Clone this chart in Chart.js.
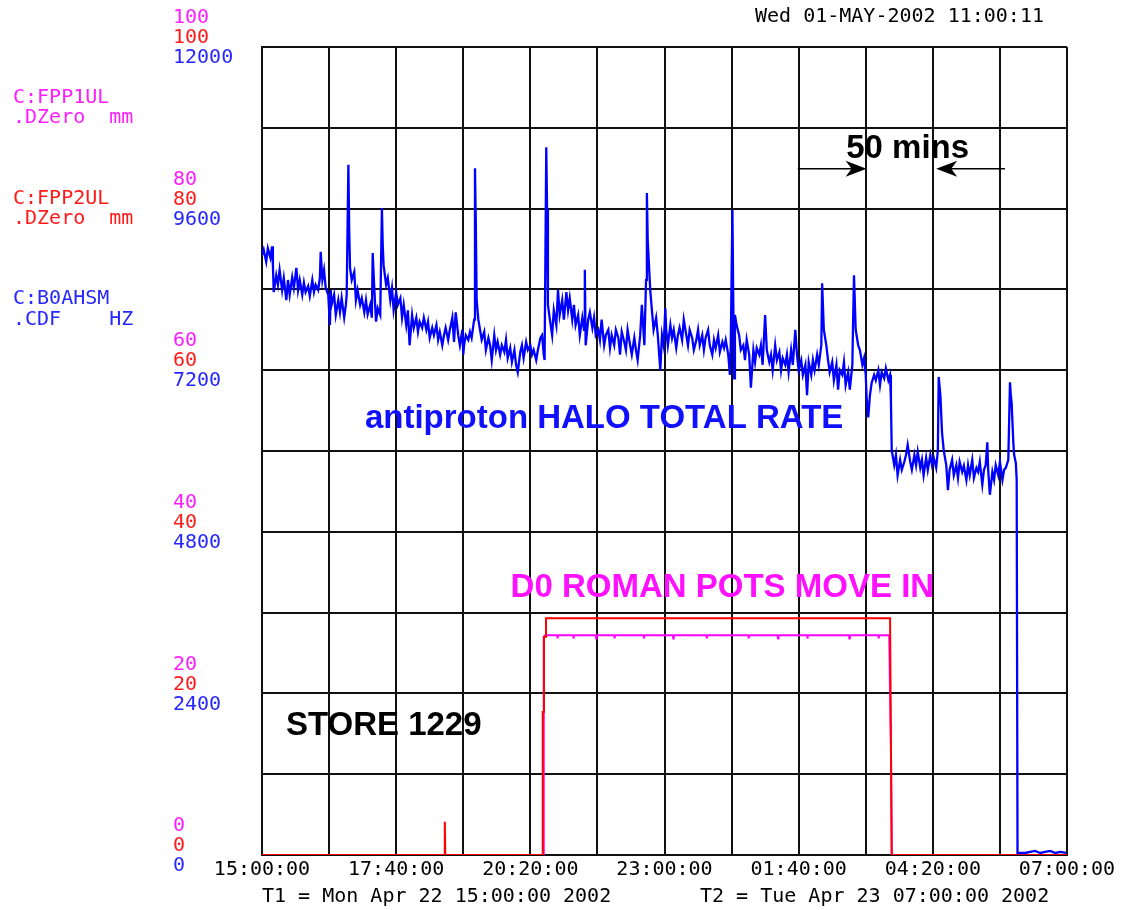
<!DOCTYPE html>
<html>
<head>
<meta charset="utf-8">
<script src="https://cdn.jsdelivr.net/npm/chart.js@4/dist/chart.umd.min.js"></script>
<style>
html,body{margin:0;padding:0;background:#fff;}
#wrap{width:1135px;height:910px;}
</style>
</head>
<body>
<div id="wrap"><canvas id="c" width="1135" height="910"></canvas></div>
<script>
// ---- data (x = minutes after 15:00:00 Mon Apr 22 2002) ----
const xTickLabels = ['15:00:00','17:40:00','20:20:00','23:00:00','01:40:00','04:20:00','07:00:00'];
const yTicksHz = [0, 2400, 4800, 7200, 9600, 12000];
const yTicksMm = [0, 20, 40, 60, 80, 100];

// C:B0AHSM.CDF  (Hz) [minute, rate]
const haloRate = [
[0,8910],[2,8990],[5,8810],[7,9010],[10,8870],[12,9040],[13,8760],[14,8360],[17,8610],[19,8470],
[21,8690],[24,8390],[26,8570],[29,8240],[31,8540],[33,8320],[36,8580],[38,8420],[41,8720],[43,8390],
[45,8540],[48,8320],[50,8500],[52,8360],[55,8450],[57,8300],[60,8540],[62,8360],[64,8470],[67,8390],
[69,8570],[70,8960],[72,8540],[74,8690],[76,8420],[79,8320],[81,7870],[82,8390],
[83,8170],[86,8320],[88,8020],[91,8240],[93,8060],[95,8270],[98,7980],[100,8170],[101,8320],[103,10250],
[104,9280],[105,8720],[107,8540],[110,8660],[112,8240],[114,8390],[117,8170],[119,8270],[122,8060],[124,8240],
[126,8030],[129,8170],[131,7980],[132,8940],[134,8390],[136,7920],[138,8120],[141,8020],[143,9610],[144,9060],
[145,8760],[148,8470],[150,8570],[153,8240],[155,8420],[157,8090],[160,8360],[162,8170],[165,8270],
[167,7980],[169,8170],[172,7870],[174,8090],[176,7570],[179,8020],[181,7830],[184,7980],[186,7770],[188,7920],
[191,7830],[193,7980],[196,7800],[198,7920],[200,7680],[203,7830],[205,7720],[208,7870],[210,7650],[212,7770],
[215,7570],[217,7720],[219,7830],[222,7650],[224,7800],[227,7980],[229,7620],[231,8060],[234,7720],[236,7570],
[239,7800],[240,7430],[241,7570],[243,7720],[246,7650],[248,7770],[250,7680],[253,7950],[254,10200],[255,9360],
[256,8240],[258,7950],[260,7800],[262,7650],[265,7770],[267,7500],[270,7680],[272,7570],[274,7350],[277,7720],
[279,7500],[281,7620],[284,7430],[286,7570],[289,7470],[291,7650],[293,7380],[296,7530],[298,7320],[301,7500],
[303,7280],[305,7170],[308,7470],[310,7570],[312,7380],[315,7620],[317,7500],[320,7570],[322,7430],[324,7500],
[327,7350],[329,7500],[332,7680],[334,7720],[336,7430],[337,7350],[339,10510],[340,9580],[341,8170],[343,7980],
[346,7720],[348,8090],[351,7870],[353,8390],[355,8020],[358,8240],[360,7950],[363,8360],[365,8090],[367,8270],
[370,7950],[372,8170],[374,7870],[377,8020],[379,7720],[382,7980],[384,7800],[385,8690],[386,7570],[389,7950],
[391,8060],[394,7830],[396,7980],[398,7720],[401,7800],[403,7650],[405,7950],[408,7570],[410,7720],[413,7800],
[415,7530],[417,7720],[420,7570],[422,7800],[425,7680],[427,7430],[429,7770],[432,7620],[434,7500],[436,7800],
[439,7570],[441,7430],[444,7680],[446,7500],[448,7350],[451,7720],[453,8170],[456,7570],[458,8540],[459,9830],
[460,9130],[463,8390],[465,8090],[467,7800],[470,7980],[472,7720],[475,7200],[477,7720],[479,7570],[481,8120],
[482,7800],[484,7570],[487,7870],[489,7680],[491,7800],[494,7530],[496,7720],[498,7830],[501,7650],[503,7950],
[506,7720],[508,7570],[510,7800],[513,7680],[515,7500],[518,7650],[520,7800],[522,7570],[525,7720],[527,7500],
[529,7680],[532,7800],[534,7570],[537,7430],[539,7650],[541,7530],[544,7720],[546,7470],[549,7620],[551,7530],
[553,7650],[556,7430],[558,7130],[559,7570],[561,9580],[562,8240],[563,7080],[564,8020],[566,7870],[569,7720],
[571,7500],[574,7570],[576,7350],[578,7650],[581,7430],[583,6940],[586,7500],[588,7320],[590,7530],[593,7430],
[595,7570],[597,7280],[600,8020],[602,7500],[605,7320],[607,7430],[609,7200],[612,7570],[614,7350],[617,7470],
[619,7200],[621,7380],[624,7280],[626,7430],[628,7170],[631,7500],[633,7280],[636,7800],[638,7430],[640,7200],
[643,7350],[645,7130],[648,7280],[650,6830],[652,7320],[655,7130],[657,7350],[659,7200],[662,7430],[664,7280],
[667,7570],[668,8490],[670,7800],[673,7570],[675,7350],[677,7170],[680,7320],[682,7050],[685,7280],[687,6910],
[689,7200],[692,7130],[694,7320],[696,6980],[699,7170],[701,6910],[704,7280],[705,7980],[706,8610],[708,7800],
[711,7570],[713,7500],[716,7280],[718,7380],[720,7130],[721,6800],[723,6500],[725,6830],[727,7010],[730,7130],
[732,7050],[735,7200],[737,6980],[739,7170],[742,7080],[744,7230],[747,7050],[749,7130],[750,6760],[751,6010],
[754,5790],[756,5940],[758,5640],[761,5870],[763,5720],[766,5840],[768,5940],[770,6090],[773,5840],[775,5720],
[778,5940],[780,5790],[782,5990],[785,5750],[787,5870],[789,5640],[792,5900],[794,5720],[797,5940],[799,5790],
[801,5900],[804,5750],[806,6010],[807,7100],[809,6830],[811,6270],[813,6010],[816,5790],[818,5420],[820,5720],
[823,5870],[825,5640],[828,5790],[830,5600],[832,5840],[835,5690],[837,5780],[840,5570],[842,5790],[844,5640],
[847,5870],[849,5600],[852,5750],[854,5690],[856,5840],[859,5500],[861,5720],[863,5790],[865,6130],[866,5720],
[868,5350],[871,5690],[873,5570],[875,5790],[878,5640],[880,5840],[883,5570],[885,5720],[887,5750],[890,5870],
[892,7020],[893,6830],[894,6710],[896,6120],[897,5940],[899,5820],[900,5570],[901,30],[910,30],[916,45],
[922,60],[928,30],[934,45],[940,60],[946,30],[952,45],[959,30]
];

// C:FPP2UL.DZero (mm) [minute, position]
const fpp2Pos = [
[0,0],[218,0],[218,4.1],[218.6,0],[334.5,0],[334.8,17.7],[336.3,17.7],[336.3,27.0],[338.7,27.0],[338.7,29.3],
[749,29.3],[751,0],[960,0]
];

// C:FPP1UL.DZero (mm) [minute, position]
const fpp1Pos = [
[0,0],[336,0],[336,27.0],[338,27.2],[352,27.2],[352.5,26.8],[353,27.2],[371,27.2],[371.5,26.8],[372,27.2],
[398,27.2],[398.5,26.8],[399,27.2],[420,27.2],[420.5,26.8],[421,27.2],[455,27.2],[455.5,26.8],[456,27.2],
[490,27.2],[490.5,26.8],[491,27.2],[530,27.2],[530.5,26.8],[531,27.2],[580,27.2],[580.5,26.8],[581,27.2],
[615,27.2],[615.5,26.8],[616,27.2],[650,27.2],[650.5,26.8],[651,27.2],[700,27.2],[700.5,26.8],[701,27.2],
[735,27.2],[735.5,26.8],[736,27.2],[748,27.2],[749.5,16.3],[750,13.6],[751,0],[960,0]
];

// ---- styling / annotations ----
const C_PINK = '#ff1cff', C_RED = '#ff1a1a', C_BLUE = '#2626ff';
const MONO = '20px "DejaVu Sans Mono", "Liberation Mono", monospace';
const BOLD = 'bold 33px "Liberation Sans", Arial, sans-serif';

const toXY = arr => arr.map(p => ({x: p[0], y: p[1]}));

const textPlugin = {
  id: 'textPlugin',
  afterDraw(chart) {
    const ctx = chart.ctx;
    const xs = chart.scales.x, ys = chart.scales.y, ym = chart.scales.ymm;
    ctx.save();
    ctx.textBaseline = 'middle';
    ctx.font = MONO;
    // stacked y tick labels
    ctx.textAlign = 'left';
    yTicksHz.forEach((v, i) => {
      const py = ys.getPixelForValue(v);
      ctx.fillStyle = C_PINK; ctx.fillText(String(yTicksMm[i]), 173, py - 29);
      ctx.fillStyle = C_RED;  ctx.fillText(String(yTicksMm[i]), 173, ym.getPixelForValue(yTicksMm[i]) - 9);
      ctx.fillStyle = C_BLUE; ctx.fillText(String(v), 173, py + 11);
    });
    // channel names
    ctx.fillStyle = C_PINK; ctx.fillText('C:FPP1UL', 13, 98); ctx.fillText('.DZero  mm', 13, 118);
    ctx.fillStyle = C_RED;  ctx.fillText('C:FPP2UL', 13, 199); ctx.fillText('.DZero  mm', 13, 219);
    ctx.fillStyle = C_BLUE; ctx.fillText('C:B0AHSM', 13, 299); ctx.fillText('.CDF    HZ', 13, 320);
    // header / footer
    ctx.fillStyle = '#000';
    ctx.fillText('Wed 01-MAY-2002 11:00:11', 755, 17);
    ctx.fillText('T1 = Mon Apr 22 15:00:00 2002', 262, 897);
    ctx.fillText('T2 = Tue Apr 23 07:00:00 2002', 700, 897);

    // annotations (data coordinates)
    ctx.font = BOLD;
    ctx.fillStyle = '#1010ff'; ctx.textAlign = 'center';
    ctx.fillText('antiproton HALO TOTAL RATE', xs.getPixelForValue(408), ys.getPixelForValue(6470));
    ctx.fillStyle = '#ff10ff';
    ctx.fillText('D0 ROMAN POTS MOVE IN', xs.getPixelForValue(549), ys.getPixelForValue(3960));
    ctx.fillStyle = '#000';
    ctx.fillText('50 mins', xs.getPixelForValue(770), ys.getPixelForValue(10480));
    ctx.textAlign = 'left';
    ctx.fillText('STORE 1229', xs.getPixelForValue(28.5), ys.getPixelForValue(1910));

    // arrows
    const ay = ys.getPixelForValue(10190);
    const arrow = (x0, x1) => {
      const dir = Math.sign(x1 - x0);
      ctx.strokeStyle = '#000'; ctx.lineWidth = 1.5;
      ctx.beginPath(); ctx.moveTo(x0, ay); ctx.lineTo(x1 - dir * 10, ay); ctx.stroke();
      ctx.fillStyle = '#000';
      ctx.beginPath();
      ctx.moveTo(x1, ay);
      ctx.lineTo(x1 - dir * 21, ay - 8);
      ctx.lineTo(x1 - dir * 15, ay);
      ctx.lineTo(x1 - dir * 21, ay + 8);
      ctx.closePath(); ctx.fill();
    };
    arrow(xs.getPixelForValue(639), xs.getPixelForValue(721));
    arrow(xs.getPixelForValue(886), xs.getPixelForValue(804));
    ctx.restore();
  }
};

const GRID = '#111';
new Chart(document.getElementById('c'), {
  type: 'line',
  data: {
    datasets: [
      { label: 'C:B0AHSM.CDF', data: toXY(haloRate), borderColor: '#0000ff', borderWidth: 2.3, pointRadius: 0, tension: 0, yAxisID: 'y', order: 0 },
      { label: 'C:FPP2UL.DZero', data: toXY(fpp2Pos), borderColor: '#ff0000', borderWidth: 2, pointRadius: 0, tension: 0, yAxisID: 'ymm', order: 1 },
      { label: 'C:FPP1UL.DZero', data: toXY(fpp1Pos), borderColor: '#ff00ff', borderWidth: 2, pointRadius: 0, tension: 0, yAxisID: 'ymm', order: 2 }
    ]
  },
  options: {
    responsive: false,
    animation: false,
    devicePixelRatio: 1,
    layout: { padding: { left: 262, right: 68, top: 47, bottom: 0 } },
    plugins: { legend: { display: false }, tooltip: { enabled: false }, title: { display: false } },
    scales: {
      x: {
        type: 'linear', min: 0, max: 960,
        grid: { color: GRID, lineWidth: 2, drawTicks: false },
        border: { color: GRID, width: 2 },
        ticks: {
          stepSize: 80, autoSkip: false, maxRotation: 0, padding: 3, color: '#000',
          font: { family: '"DejaVu Sans Mono", monospace', size: 20 },
          callback: v => (v % 160 === 0) ? xTickLabels[v / 160] : ''
        },
        afterFit: s => { s.height = 55; }
      },
      y: {
        type: 'linear', min: 0, max: 12000, position: 'left',
        grid: { color: GRID, lineWidth: 2, drawTicks: false },
        border: { color: GRID, width: 2 },
        ticks: { stepSize: 1200, display: false },
        afterFit: s => { s.width = 0; }
      },
      ymm: {
        type: 'linear', min: 0, max: 100, display: false
      }
    }
  },
  plugins: [textPlugin]
});
</script>
</body>
</html>
